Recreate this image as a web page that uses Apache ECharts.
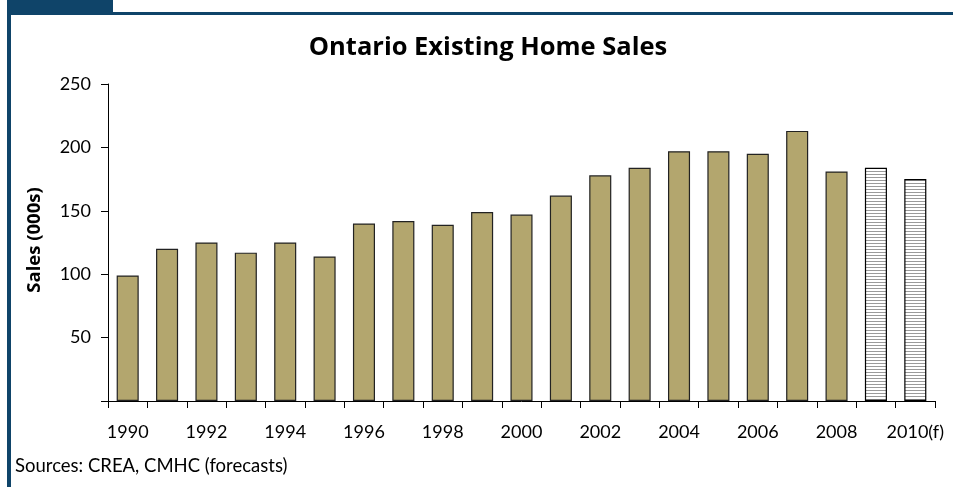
<!DOCTYPE html>
<html><head><meta charset="utf-8">
<script src="https://cdn.jsdelivr.net/npm/echarts@6/dist/echarts.min.js"></script>
<style>html,body{margin:0;padding:0;background:#fff}#c{width:953px;height:487px}</style>
</head><body><div id="c"></div>
<script>
const categories = ['1990','1991','1992','1993','1994','1995','1996','1997','1998','1999','2000','2001','2002','2003','2004','2005','2006','2007','2008','2009','2010(f)'];
const sales = [99,120,125,117,125,114,140,142,139,149,147,162,178,184,197,197,195,213,181,184,175];
const forecastFrom = 19; // index of first forecast year
const yTicks = [0,50,100,150,200,250];

const pat = document.createElement('canvas');
pat.width = 4; pat.height = 3;
const pc = pat.getContext('2d');
pc.fillStyle = '#ffffff'; pc.fillRect(0,0,4,3);
pc.fillStyle = '#9a9a9a'; pc.fillRect(0,0,4,1);

const chart = echarts.init(document.getElementById('c'), null, {renderer:'canvas'});
const F = 'Lato, "Open Sans", sans-serif';
const FB = '"Open Sans", Lato, sans-serif';
chart.setOption({
  animation:false,
  backgroundColor:'#fff',
  title:{text:'Ontario Existing Home Sales', left:483, top:30, textAlign:'center',
    textStyle:{fontFamily:FB, fontWeight:'bold', fontSize:25.5, color:'#000'}},
  grid:{left:108, right:18, top:84, bottom:86},
  xAxis:{type:'category', data:categories, boundaryGap:true,
    axisLine:{lineStyle:{color:'#000', width:1}},
    axisTick:{show:true, interval:0, length:7, lineStyle:{color:'#000'}},
    axisLabel:{interval:1, color:'#000', fontFamily:F, fontSize:18, margin:22}},
  yAxis:{type:'value', min:yTicks[0], max:yTicks[yTicks.length-1], interval:50,
    axisLine:{show:true, lineStyle:{color:'#000', width:1}},
    axisTick:{show:true, length:7, lineStyle:{color:'#000'}},
    splitLine:{show:false},
    axisLabel:{color:'#000', fontFamily:F, fontSize:18, margin:17,
      formatter:v=> v===0 ? '' : String(v)}},
  series:[{type:'bar', barWidth:'56%',
    data: sales.map((v,i)=>({value:v, itemStyle: i>=forecastFrom
      ? {color:{image:pat, repeat:'repeat'}, borderColor:'#000', borderWidth:1.2}
      : {color:'#b3a66e', borderColor:'#222', borderWidth:1.2}}))}],
  graphic:[
    {type:'rect', shape:{x:7,y:0,width:106,height:13}, style:{fill:'#0f4469'}},
    {type:'rect', shape:{x:7,y:12,width:946,height:3}, style:{fill:'#0f4469'}},
    {type:'rect', shape:{x:7,y:12,width:4,height:475}, style:{fill:'#0f4469'}},
    {type:'text', x:35, y:240, rotation:Math.PI/2,
      style:{text:'Sales (000s)', fontFamily:FB, fontWeight:'bold', fontSize:18.5, fill:'#000', align:'center', verticalAlign:'middle'}},
    {type:'text', left:15, top:457, style:{text:'Sources: CREA, CMHC (forecasts)', fontFamily:F, fontSize:18.5, fill:'#000'}}
  ]
});
</script></body></html>
